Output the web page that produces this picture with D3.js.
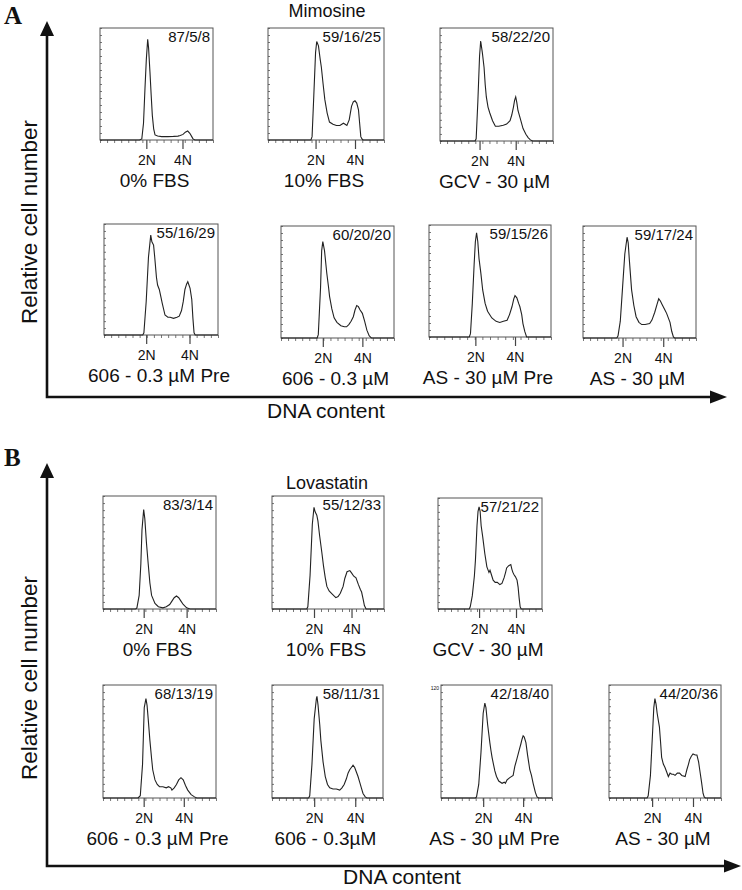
<!DOCTYPE html>
<html>
<head>
<meta charset="utf-8">
<script src="https://cdnjs.cloudflare.com/ajax/libs/d3/7.8.5/d3.min.js"></script>
<style>
  body { margin: 0; background: #fff; }
  svg { font-family: "Liberation Sans", Arial, sans-serif; }
  svg text { fill: #111; }
</style>
</head>
<body>
<div id="chart"></div>
<script>
// condition names and G1/S/G2 percentages
const mimosineLabels = ["0% FBS", "10% FBS", "GCV - 30 µM", "606 - 0.3 µM Pre", "606 - 0.3 µM", "AS - 30 µM Pre", "AS - 30 µM"];
const mimosinePhases = ["87/5/8", "59/16/25", "58/22/20", "55/16/29", "60/20/20", "59/15/26", "59/17/24"];
const lovastatinLabels = ["0% FBS", "10% FBS", "GCV - 30 µM", "606 - 0.3 µM Pre", "606 - 0.3µM", "AS - 30 µM Pre", "AS - 30 µM"];
const lovastatinPhases = ["83/3/14", "55/12/33", "57/21/22", "68/13/19", "58/11/31", "42/18/40", "44/20/36"];
const ploidyNames = ["2N", "4N"];

// channel of the 2N / 4N peak marks (0-100 scale)
const mimosinePeaks = [[41, 73], [41, 75], [35, 67], [37, 75], [37, 72], [38, 70.5], [35, 71]];
const lovastatinPeaks = [[36, 74], [37.5, 71], [39.5, 75], [36, 71.5], [38, 75], [38, 74], [38.5, 75]];

// histograms: [channel, relative count]
const mimosineHist = [
  [[0,0],[35,0],[37,1],[38.5,15],[39.8,46],[41,72],[42.2,90],[43,82],[44.2,61],[45.3,40],[46.3,22],[47.5,10],[48.7,4.5],[51,3.5],[54.6,3],[60,3],[65,3.2],[69,3.5],[71,4],[73.5,5],[75.5,7],[77.6,8],[79.5,6],[81.2,3],[82.3,1],[84,0],[100,0]],
  [[0,0],[37,0],[38,3],[39.5,40],[41,78],[42,88],[43.5,84],[45,72],[46,65],[47.5,50],[49,36],[51,24],[53,16],[56,14],[59,13],[62,13],[65,15],[66.5,14],[68,13],[70,18],[72,30],[73.5,34],[75,35],[76.5,33],[78,27],[79,15],[80,3],[81,1],[82,0],[100,0]],
  [[0,0],[31,0],[32,2],[33.5,35],[35,75],[36,88.5],[37.5,78],[39,65],[40,50],[41,39],[42.5,30],[44,25],[46.5,18],[49,13],[52,13],[56,14],[59,15],[62,18],[63.5,23],[65,30],[66,36],[67,39],[68,34],[69,27],[71,20],[73.5,11],[76,6],[78,3],[80,1],[82,0],[100,0]],
  [[0,0],[34,0],[35,2],[37,30],[39,70],[41,90],[42,84],[43.5,81],[44.5,70],[46,52],[47,45],[48.5,41],[50,34],[51,29],[53.5,18],[56,16],[58,16],[61,15],[64,16],[66,17],[68,22],[69.5,30],[71,41],[72.5,46],[73.5,48],[74.5,45],[75.5,42],[77,32],[78,15],[79,2],[80,0],[100,0]],
  [[0,0],[32,0],[33,3],[35,45],[36,78],[37,86],[38.5,78],[40.5,58],[42,46],[43,37],[45,26],[47,18],[49.5,14],[53,11],[56,10],[58,10],[60,12],[62,15],[64,19],[65.5,25],[67,29],[68.5,28],[70,25],[72,22],[74,15],[76,7],[78,2],[79,1],[80,0],[100,0]],
  [[0,0],[33,0],[34,3],[35.5,30],[37,65],[38,85],[39,93],[40,85],[41,70],[42.5,57],[44,42],[46,30],[48,23],[51.5,17],[55,14],[58,13],[61,14],[64,15],[66,20],[68,27],[69.5,34],[70.5,37],[72,35],[73.5,30],[74.5,27],[76,20],[77,12],[78.5,5],[80,0],[100,0]],
  [[0,0],[30,0],[31,2],[33,15],[35,45],[37,75],[39,90],[40,85],[41,70],[43,43],[45,29],[47,19],[49.5,14],[52,12],[55,12],[59,13],[61,16],[63.5,23],[65.5,30],[67,35],[68.5,33],[70,30],[72.5,25],[74,22],[75.5,18],[77,14],[78.5,6],[80,1],[81,0],[100,0]]
];
const lovastatinHist = [
  [[0,0],[29,0],[30,1],[32,12],[33.5,40],[34.5,70],[36,88],[37,80],[38.5,58],[40,40],[41.5,23],[43,12],[46,5],[49,2],[53,1],[56,2],[59,4],[61,7],[63,10],[65,11.5],[67,10],[69,7],[71,4],[74,1],[77,0],[100,0]],
  [[0,0],[31,0],[32,2],[34,30],[36,75],[37.5,90],[38.5,86],[40,83],[41,78],[42.5,65],[44.5,50],[46,38],[47.5,28],[49,20],[51,16],[54,13],[57,10],[59,11],[61,14],[63.5,20],[65,27],[67,33],[69.5,34],[71,32],[73,29],[75,27.5],[77,22],[79,17],[80,15],[81.5,8],[82.5,3],[84,0],[100,0]],
  [[0,0],[30,0],[31,2],[33,12],[35,30],[36,44],[37.5,75],[38.5,88],[39.5,92],[40.5,88],[41.5,75],[43,65],[45,50],[47,38],[49,33],[50,35],[51,32],[53,26],[55,24],[57,24],[59.5,22],[61.5,23],[63.5,28],[65,33],[66,37],[68,39],[70,40],[71,36],[72,33],[73,31],[74.5,29],[76,26],[77,20],[78,10],[79,2],[80,0],[100,0]],
  [[0,0],[31,0],[33,2],[35,30],[36.5,80],[38,88],[39,82],[40,70],[41.5,51],[43,35],[44,25],[46,16],[48,12],[50,10],[53,10],[56,9],[58,10],[60,9],[61,7],[63,9],[65,12],[67,16],[69,18],[71,16],[73,11],[75,7],[78,3],[81,1],[83,0],[100,0]],
  [[0,0],[33,0],[34,2],[36,30],[38,70],[40,88],[40.5,90],[41.5,82],[43,65],[44,51],[46,32],[48,19],[50,12],[52,9],[55,8],[58,8],[61,7],[63,9],[65,12],[67,17],[68.5,22],[70,25],[71.5,27],[73,29],[74.5,27],[76,23],[77.5,19],[79,14],[80.5,9],[82,4],[84,1],[85.5,0],[100,0]],
  [[0,0],[31,0],[32,1],[34,12],[36,40],[38,75],[39.5,84],[40.5,80],[42,65],[44,49],[45,42],[46,36],[47,31],[48.5,24],[50,19],[52,15],[55,13],[57,14],[58,13],[59.5,16],[62,18],[65,20],[66.5,28],[68.5,35],[70.5,42.5],[72,48],[73,52],[74,55],[75,54],[76.5,49],[78,38],[80,25],[81.5,20],[83,13],[85,5],[86.5,1],[88,0],[100,0]],
  [[0,0],[34,0],[35,2],[37,20],[39,60],[40,80],[41,88],[42,83],[43,75],[45,63],[46,50],[47,36],[48.5,30],[50,27],[51.5,23],[53,19],[54.5,22],[56,21],[57.5,21],[59,20],[61,22],[63,22],[65,20],[68,19],[69.5,25],[71,30],[72,34],[73.5,37],[75,39],[77,38],[78.5,38],[80,32],[81,25],[82.5,15],[84,4],[85,1],[86,0],[100,0]]
];

// box layout [left, top, width, height]
const boxesA = [[100,28,113,112],[268,28,116,112],[440,28,113,113],[104,224,114,111],[281,226,113,112],[429,225,122,112],[583,226,113,112]];
const boxesB = [[103,496,113,113],[272,496,112,113],[438,498,104,111],[103,685,113,113],[272,685,111,113],[441,685,111,113],[609,685,112,113]];

const width = 742, height = 890;
const svg = d3.select("#chart").append("svg")
    .attr("width", width)
    .attr("height", height);

function drawPanel(boxes, hists, peaks, phases, labels) {
    boxes.forEach((b, i) => {
        const [left, top, w, h] = b;
        const x = d3.scaleLinear().domain([0, 100]).range([left, left + w]);
        const y = d3.scaleLinear().domain([0, 100]).range([top + h, top]);
        const g = svg.append("g").attr("class", "hist");

        // left ticks (inside)
        g.append("g")
            .attr("transform", `translate(${left},0)`)
            .call(d3.axisRight(y).tickValues(d3.range(0, 101, 100 / 16)).tickSize(2).tickFormat(""))
            .call(a => a.select(".domain").remove())
            .call(a => a.selectAll("line").attr("stroke", "#777"));

        // bottom minor ticks
        g.append("g")
            .attr("transform", `translate(0,${top + h})`)
            .call(d3.axisBottom(x).tickValues(d3.range(0, 101, 100 / 16)).tickSize(3).tickFormat(""))
            .call(a => a.select(".domain").remove())
            .call(a => a.selectAll("line").attr("stroke", "#777"));

        // 2N / 4N marks
        g.append("g")
            .attr("transform", `translate(0,${top + h})`)
            .call(d3.axisBottom(x).tickValues(peaks[i]).tickSize(9).tickPadding(6)
                .tickFormat((d, j) => ploidyNames[j]))
            .call(a => a.attr("font-family", null).attr("font-size", null))
            .call(a => a.select(".domain").remove())
            .call(a => a.selectAll("line").attr("stroke", "#444").attr("stroke-width", 1.2))
            .call(a => a.selectAll("text").attr("font-size", 14).attr("fill", "#111"));

        g.append("rect")
            .attr("x", left).attr("y", top)
            .attr("width", w).attr("height", h)
            .attr("fill", "none")
            .attr("stroke", "#555")
            .attr("stroke-width", 1);

        g.append("path")
            .datum(hists[i])
            .attr("fill", "none")
            .attr("stroke", "#222")
            .attr("stroke-width", 1.1)
            .attr("d", d3.line().x(d => x(d[0])).y(d => y(d[1])));

        g.append("text")
            .attr("x", left + w - 3)
            .attr("y", top + 14)
            .attr("text-anchor", "end")
            .attr("font-size", 15)
            .text(phases[i]);

        g.append("text")
            .attr("x", left + w / 2 - 2)
            .attr("y", top + h + 47)
            .attr("text-anchor", "middle")
            .attr("font-size", 19)
            .text(labels[i]);
    });
}

function drawFrame(x0, yTop, yBottom, xRight, letter, letterY, title, titleY, yLabelY, dnaX, dnaDy) {
    const f = svg.append("g").attr("class", "frame");
    f.append("path")
        .attr("d", `M${x0},${yTop + 12}V${yBottom}H${xRight - 14}`)
        .attr("fill", "none")
        .attr("stroke", "#111")
        .attr("stroke-width", 2.6);
    f.append("path")
        .attr("d", `M${x0},${yTop}L${x0 - 7},${yTop + 15}L${x0 + 7},${yTop + 15}Z`)
        .attr("fill", "#111");
    f.append("path")
        .attr("d", `M${xRight},${yBottom}L${xRight - 17},${yBottom - 6.5}L${xRight - 17},${yBottom + 6.5}Z`)
        .attr("fill", "#111");
    f.append("text")
        .attr("x", 4).attr("y", letterY)
        .style("font-family", "'Liberation Serif', 'Times New Roman', serif")
        .style("font-weight", "bold")
        .attr("font-size", 25)
        .text(letter);
    f.append("text")
        .attr("x", 327).attr("y", titleY)
        .attr("text-anchor", "middle")
        .attr("font-size", 18)
        .text(title);
    f.append("text")
        .attr("transform", `translate(${x0 - 10},${yLabelY}) rotate(-90)`)
        .attr("text-anchor", "middle")
        .attr("font-size", 22.5)
        .text("Relative cell number");
    f.append("text")
        .attr("x", dnaX).attr("y", yBottom + dnaDy)
        .attr("text-anchor", "middle")
        .attr("font-size", 21)
        .text("DNA content");
}

drawFrame(47, 21, 397, 727, "A", 24, "Mimosine", 17, 222, 326, 21);
drawPanel(boxesA, mimosineHist, mimosinePeaks, mimosinePhases, mimosineLabels);

drawFrame(47, 463, 866, 741, "B", 466, "Lovastatin", 489, 678, 402, 18);
drawPanel(boxesB, lovastatinHist, lovastatinPeaks, lovastatinPhases, lovastatinLabels);

// tiny scale label left on one of the plots
svg.append("text")
    .attr("x", boxesB[5][0] - 2).attr("y", boxesB[5][1] + 5)
    .attr("text-anchor", "end")
    .attr("font-size", 5)
    .attr("fill", "#666")
    .text("120");
</script>
</body>
</html>
